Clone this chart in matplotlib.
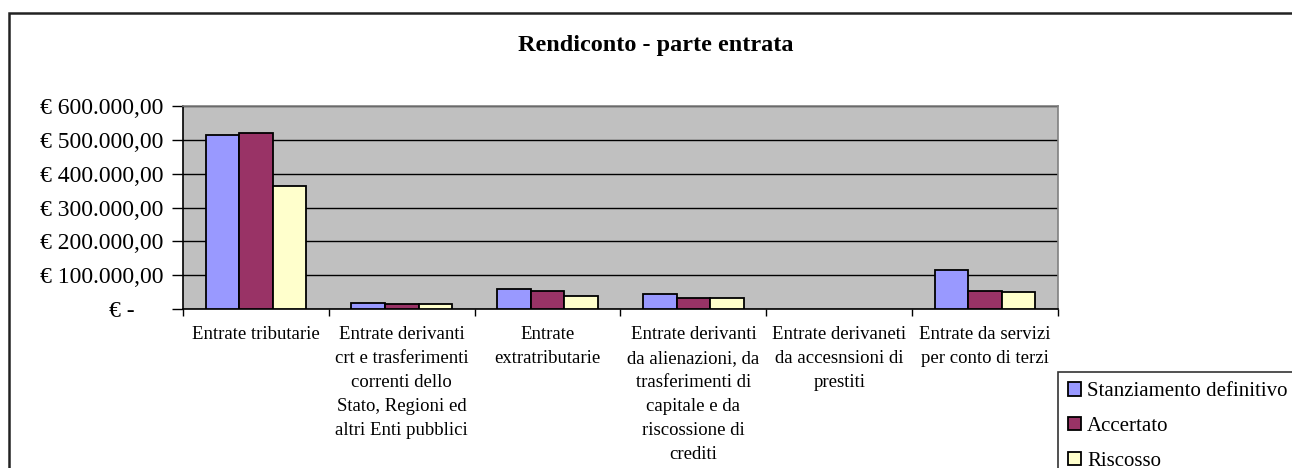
import matplotlib.pyplot as plt
import numpy as np
from matplotlib.patches import Rectangle
from matplotlib.ticker import FuncFormatter

plt.rcParams['font.family'] = ['Liberation Serif', 'DejaVu Serif']

categories = [
    "Entrate tributarie",
    "Entrate derivanti\ncrt e trasferimenti\ncorrenti dello\nStato, Regioni ed\naltri Enti pubblici",
    "Entrate\nextratributarie",
    "Entrate derivanti\nda alienazioni, da\ntrasferimenti di\ncapitale e da\nriscossione di\ncrediti",
    "Entrate derivaneti\nda accesnsioni di\nprestiti",
    "Entrate da servizi\nper conto di terzi",
]
series_names = ["Stanziamento definitivo", "Accertato", "Riscosso"]
stanziamento = [515000, 18000, 58000, 44000, 0, 115000]
accertato = [520000, 14000, 53000, 33000, 0, 53000]
riscosso = [365000, 14000, 38000, 33000, 0, 49000]
yticks = [0, 100000, 200000, 300000, 400000, 500000, 600000]

colors = ['#9999FF', '#993366', '#FFFFCC']


def euro(v, pos=None):
    if v == 0:
        return "€ -     "
    s = "{:,.2f}".format(v).replace(",", "X").replace(".", ",").replace("X", ".")
    return "€ " + s


fig = plt.figure(figsize=(12.92, 4.68), dpi=100)
ax = fig.add_axes([183 / 1292, 1 - 309 / 468, 875 / 1292, 203 / 468])
ax.set_facecolor('#C0C0C0')

x = np.arange(len(categories))
w = 0.23
for i, vals in enumerate([stanziamento, accertato, riscosso]):
    # empty values show no bar at all, as in the original
    lw = [1.3 if v > 0 else 0 for v in vals]
    ax.bar(x + (i - 1) * w, vals, w, color=colors[i], edgecolor='black',
           linewidth=lw, label=series_names[i], zorder=3)

ax.set_xlim(-0.5, len(categories) - 0.5)
ax.set_ylim(0, 600000)
ax.set_yticks(yticks)
ax.yaxis.set_major_formatter(FuncFormatter(euro))
ax.grid(axis='y', color='black', linewidth=1.0, zorder=1)

# category boundary ticks
ax.set_xticks(np.arange(len(categories) + 1) - 0.5)
ax.set_xticklabels([])
ax.set_xticks(x, minor=True)
ax.set_xticklabels(categories, minor=True, fontsize=13.5, linespacing=1.55,
                   va='top', ha='center')
ax.tick_params(axis='x', which='minor', length=0, pad=12)
ax.tick_params(axis='x', which='major', length=5, width=1, direction='out')
ax.tick_params(axis='y', length=8, width=1, direction='out', labelsize=17, pad=6)

for s in ['left', 'bottom']:
    ax.spines[s].set_color('black')
    ax.spines[s].set_linewidth(1.2)
for s in ['top', 'right']:
    ax.spines[s].set_color('#808080')
    ax.spines[s].set_linewidth(1.2)

fig.text(656 / 1292, 1 - 46 / 468, "Rendiconto - parte entrata", ha='center',
         va='center', fontsize=17.5, fontweight='bold')

leg = fig.legend(loc='upper left', bbox_to_anchor=(1058 / 1292, 1 - 372 / 468),
                 fontsize=15, frameon=True, fancybox=False, edgecolor='black',
                 handlelength=0.6, handleheight=0.6, handletextpad=0.3,
                 labelspacing=0.75, borderpad=0.5, borderaxespad=0)
leg.get_frame().set_linewidth(1.2)

# outer chart border
fig.add_artist(Rectangle((9 / 1292, -0.1), 1.2, 1.1 - 13 / 468, fill=False,
                         edgecolor='#222222', linewidth=1.8,
                         transform=fig.transFigure))

fig.savefig("out.png", dpi=100)
